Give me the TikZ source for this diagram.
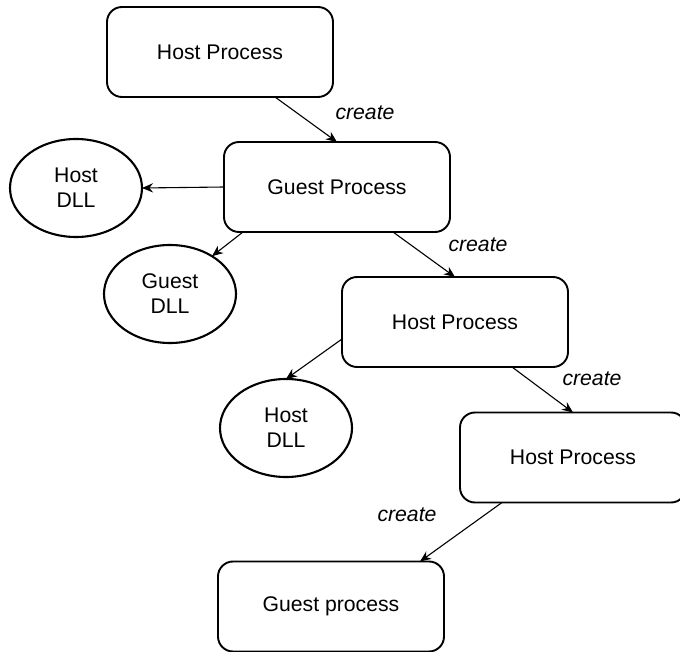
\documentclass[tikz,border=0pt]{standalone}
\usepackage{fontspec}
\setmainfont{Liberation Sans}
\usetikzlibrary{arrows.meta,shapes.geometric}
\tikzset{
  flow/.style={-{Stealth[length=5.5pt,width=4.6pt,inset=1.8pt]},line width=0.55pt,draw=black},
  procbox/.style={draw=black,line width=0.95pt,rounded corners=7.5pt,
    minimum width=113pt,minimum height=45pt,inner sep=0pt,outer sep=0pt,
    align=center,font=\fontsize{10.6}{12.5}\selectfont},
  dllnode/.style={draw=black,ellipse,line width=1.05pt,
    minimum width=66pt,minimum height=49pt,inner sep=0pt,outer sep=0pt,
    align=center,font=\fontsize{10.6}{12.5}\selectfont},
  createlabel/.style={font=\fontsize{10.6}{12.5}\selectfont\itshape}
}
\begin{document}
\begin{tikzpicture}[x=0.5pt,y=-0.5pt]
  \useasboundingbox (0,0) rectangle (680,652);
  % processes
  \node[procbox] (host1) at (220,52) {Host Process};
  \node[procbox] (guest) at (337,187) {Guest Process};
  \node[procbox] (host2) at (455,322) {Host Process};
  \node[procbox] (host3) at (573,457.5) {Host Process};
  \node[procbox] (guestp) at (331,606.5) {Guest process};
  % dlls
  \node[dllnode] (hostdll1) at (76,188) {Host\\DLL};
  \node[dllnode] (guestdll) at (170,294) {Guest\\DLL};
  \node[dllnode] (hostdll2) at (286,428) {Host\\DLL};
  % labels
  \node[createlabel] (create1) at (365,113) {create};
  \node[createlabel] (create2) at (478,245) {create};
  \node[createlabel] (create3) at (592,379) {create};
  \node[createlabel] (create4) at (407,515) {create};
  % connectors
  \draw[flow] ([xshift=27.5pt]host1.south) -- (guest.north);
  \draw[flow] (guest.west) -- (hostdll1.east);
  \draw[flow] ([xshift=-47pt]guest.south) -- (guestdll.42);
  \draw[flow] ([xshift=28pt]guest.south) -- (host2.north);
  \draw[flow] ([yshift=-8.5pt]host2.west) -- (hostdll2.north);
  \draw[flow] ([xshift=28.5pt]host2.south) -- (host3.north);
  \draw[flow] ([xshift=-35.5pt]host3.south) -- ([xshift=44.5pt]guestp.north);
\end{tikzpicture}
\end{document}
